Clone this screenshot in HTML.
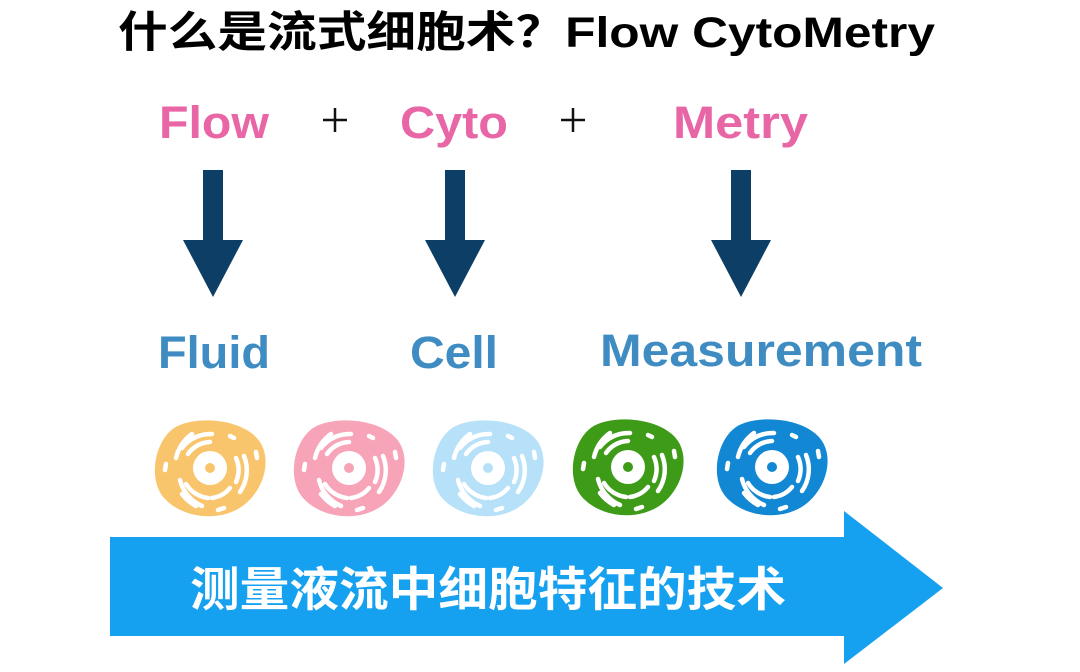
<!DOCTYPE html>
<html><head><meta charset="utf-8"><style>
html,body{margin:0;padding:0;background:#fff;}
svg{display:block;}
</style></head><body>
<svg width="1080" height="672" viewBox="0 0 1080 672" xmlns="http://www.w3.org/2000/svg">
<defs>
<g id="deco" fill="none" stroke="#fff" stroke-width="4.5" stroke-linecap="round">
  <circle cx="58" cy="50" r="17" fill="#fff" stroke="none"/>
  <path d="M30,30 A36,36 0 0 1 60,16"/>
  <path d="M36,36 A28,28 0 0 1 58,24"/>
  <path d="M24,40 A42,42 0 0 1 40,16"/>
  <path d="M84,40 A30,30 0 0 1 84,64"/>
  <path d="M92,38 A38,38 0 0 1 88,74"/>
  <path d="M78,70 A28,28 0 0 1 60,80"/>
  <path d="M34,66 A30,30 0 0 0 56,80"/>
  <path d="M28,62 A38,38 0 0 0 50,88"/>
  <path d="M30,76 A44,44 0 0 0 44,88"/>
  <path d="M78,18 L82,20"/>
  <path d="M104,34 L105,40"/>
  <path d="M14,46 L13,52"/>
  <path d="M66,92 L72,90"/>
</g>
<path id="blob" d="M22,10 C42,-3 92,0 108,24 C122,46 108,80 84,92 C60,104 28,98 12,80 C-4,62 2,24 22,10 Z"/>
</defs>
<text x="118" y="47" font-family="Liberation Sans, Noto Sans CJK SC, sans-serif" font-weight="bold" font-size="43" fill="#000" textLength="817" lengthAdjust="spacingAndGlyphs">什么是流式细胞术？Flow CytoMetry</text>

<g font-family="Liberation Sans, sans-serif" font-weight="bold" font-size="45" fill="#e866a6">
<text x="159" y="138" textLength="110" lengthAdjust="spacingAndGlyphs">Flow</text>
<text x="400" y="138" textLength="108" lengthAdjust="spacingAndGlyphs">Cyto</text>
<text x="673" y="138" textLength="135" lengthAdjust="spacingAndGlyphs">Metry</text>
</g>
<g stroke="#111" stroke-width="2.5">
<path d="M323,120 H347 M335,108 V132"/>
<path d="M561,120 H585 M573,108 V132"/>
</g>
<g fill="#0d3f66">
<path d="M203,170 H223 V240 H243 L213,297 L183,240 H203 Z"/>
<path d="M445,170 H465 V240 H485 L455,297 L425,240 H445 Z"/>
<path d="M731,170 H751 V240 H771 L741,297 L711,240 H731 Z"/>
</g>
<g font-family="Liberation Sans, sans-serif" font-weight="bold" font-size="45" fill="#3f8cc3">
<text x="158" y="368" textLength="112" lengthAdjust="spacingAndGlyphs">Fluid</text>
<text x="410" y="368" textLength="88" lengthAdjust="spacingAndGlyphs">Cell</text>
<text x="600" y="366" textLength="322" lengthAdjust="spacingAndGlyphs">Measurement</text>
</g>
<g transform="translate(152,418)"><use href="#blob" fill="#f9c56c"/><use href="#deco"/><circle cx="58" cy="50" r="5" fill="#f9c56c"/></g>
<g transform="translate(291,418)"><use href="#blob" fill="#f7a4b8"/><use href="#deco"/><circle cx="58" cy="50" r="5" fill="#f7a4b8"/></g>
<g transform="translate(430,418)"><use href="#blob" fill="#b6e1f8"/><use href="#deco"/><circle cx="58" cy="50" r="5" fill="#b6e1f8"/></g>
<g transform="translate(570,417)"><use href="#blob" fill="#3e9b18"/><use href="#deco"/><circle cx="58" cy="50" r="5" fill="#3e9b18"/></g>
<g transform="translate(714,417)"><use href="#blob" fill="#1287d3"/><use href="#deco"/><circle cx="58" cy="50" r="5" fill="#1287d3"/></g>

<path d="M110,537 H844 V511 L943,588 L844,664 V636 H110 Z" fill="#15a0f0"/>
<text x="190" y="606" font-family="Liberation Sans, Noto Sans CJK SC, sans-serif" font-weight="bold" font-size="47" fill="#fff" textLength="596" lengthAdjust="spacingAndGlyphs">测量液流中细胞特征的技术</text>
</svg>
</body></html>
